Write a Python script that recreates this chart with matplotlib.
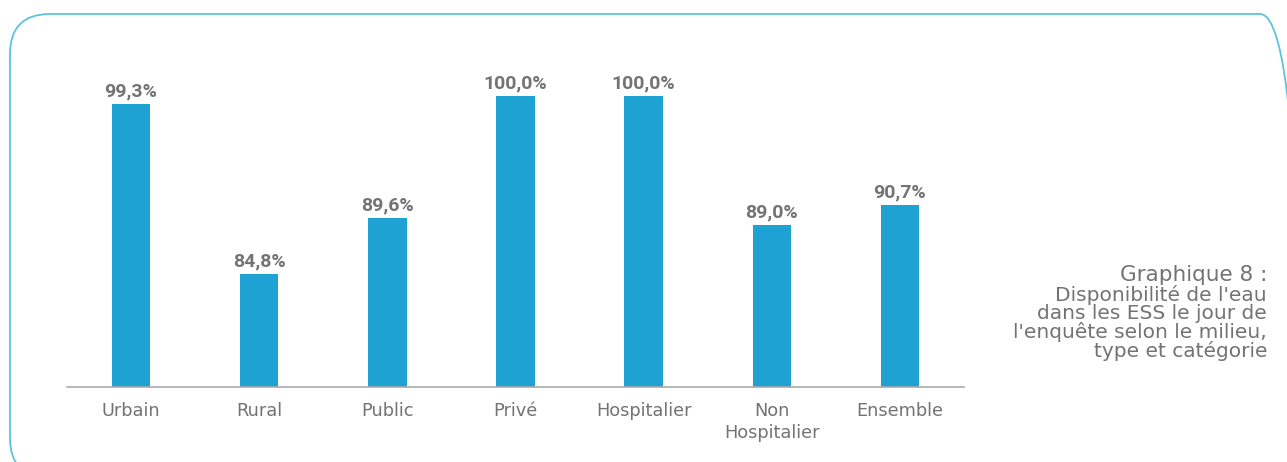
import matplotlib.pyplot as plt
from matplotlib.patches import FancyBboxPatch

# données
categories = ["Urbain", "Rural", "Public", "Privé", "Hospitalier", "Non\nHospitalier", "Ensemble"]
valeurs = [99.3, 84.8, 89.6, 100.0, 100.0, 89.0, 90.7]
etiquettes = ["99,3%", "84,8%", "89,6%", "100,0%", "100,0%", "89,0%", "90,7%"]

titre = "Graphique 8 :"
sous_titre = "Disponibilité de l'eau\ndans les ESS le jour de\nl'enquête selon le milieu,\ntype et catégorie"

bleu = "#1ea1d3"
gris = "#737373"

plt.rcParams['font.family'] = ['DejaVu Sans']

W, H = 1287, 462
fig = plt.figure(figsize=(W / 100, H / 100), dpi=100)

# fond en coordonnées pixel pour le cadre arrondi
fond = fig.add_axes([0, 0, 1, 1])
fond.set_xlim(0, W)
fond.set_ylim(0, H)
fond.axis("off")
cadre = FancyBboxPatch((10, H - 478), 1290, 464,
                       boxstyle="round,pad=0,rounding_size=40",
                       fill=False, edgecolor="#5bc5dc", linewidth=1.3)
fond.add_patch(cadre)

ax = fig.add_axes([67 / W, 75 / H, 897 / W, 357 / H])
ax.patch.set_alpha(0)
x = range(len(categories))
ax.bar(x, valeurs, width=0.3, color=bleu)
ax.set_xlim(-0.5, len(categories) - 0.5)
ax.set_ylim(75.15, 105.6)

for i, v in enumerate(valeurs):
    ax.text(i, v + 0.3, etiquettes[i], ha="center", va="bottom",
            fontsize=14, fontweight="bold", color=gris,
            family=['Roboto', 'DejaVu Sans'])

ax.set_xticks(list(x))
ax.set_xticklabels(categories, fontsize=12.8, color=gris, linespacing=1.3)
ax.tick_params(axis="x", length=0, pad=11)
ax.set_yticks([])
for s in ["left", "right", "top"]:
    ax.spines[s].set_visible(False)
ax.spines["bottom"].set_color("#aaaaaa")
ax.spines["bottom"].set_linewidth(1.2)

fig.text(1267 / W, 1 - 281 / H, titre, ha="right", va="baseline",
         fontsize=15.5, color=gris)
fig.text(1267 / W, 1 - 285 / H, sous_titre, ha="right", va="top",
         fontsize=14.5, color=gris, linespacing=0.93)

fig.savefig("out.png", dpi=100)
